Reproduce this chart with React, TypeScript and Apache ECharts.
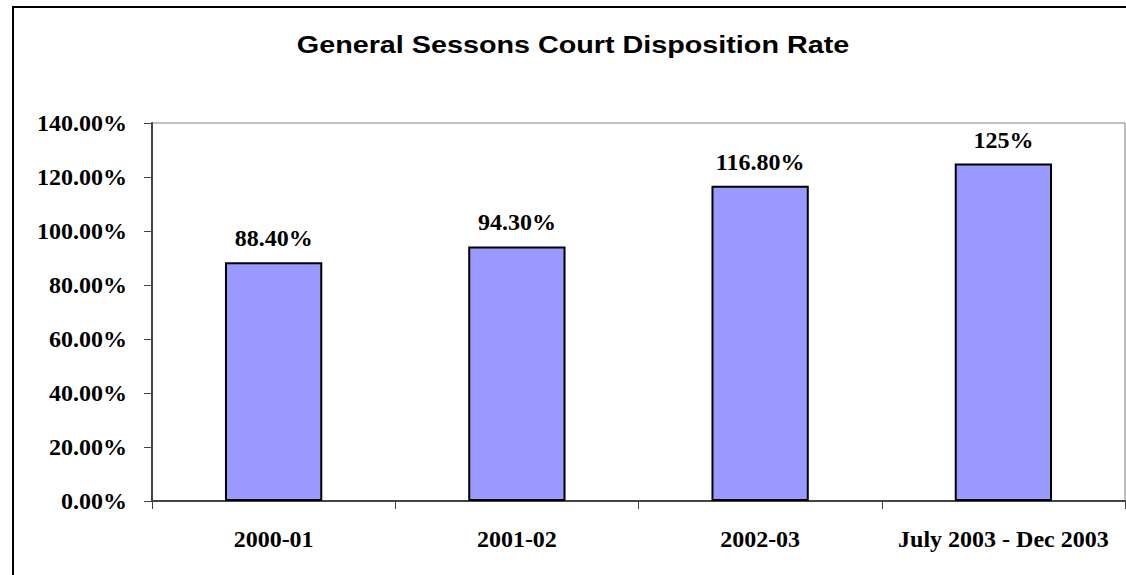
import React, { useEffect, useRef } from "react";
import * as echarts from "echarts";

const titleText = "General Sessons Court Disposition Rate";
const categories = ["2000-01", "2001-02", "2002-03", "July 2003 - Dec 2003"];
const values = [88.4, 94.3, 116.8, 125];
const valueLabels = ["88.40%", "94.30%", "116.80%", "125%"];

const SERIF = "'Liberation Serif', 'Times New Roman', serif";
const SANS = "'Liberation Sans', Arial, sans-serif";

export default function App() {
  const ref = useRef<HTMLDivElement>(null);
  useEffect(() => {
    if (!ref.current) return;
    const chart = echarts.init(ref.current, null, { renderer: "svg" });
    chart.setOption({
      animation: false,
      backgroundColor: "#ffffff",
      graphic: [
        {
          type: "rect",
          shape: { x: 13, y: 7, width: 1200, height: 700 },
          style: { fill: "none", stroke: "#000000", lineWidth: 2 },
          silent: true,
        },
        {
          type: "text",
          x: 573,
          y: 45,
          scaleX: 1.25,
          style: {
            text: titleText,
            x: 0,
            y: 0,
            textAlign: "center",
            textVerticalAlign: "middle",
            fontFamily: SANS,
            fontWeight: "bold",
            fontSize: 23,
            fill: "#000000",
          },
        },
      ],
      grid: {
        left: 152,
        right: 1,
        top: 123,
        bottom: 74,
        show: true,
        borderColor: "#808080",
        borderWidth: 1,
        backgroundColor: "#ffffff",
      },
      xAxis: {
        type: "category",
        data: categories,
        boundaryGap: true,
        axisLine: { show: true, lineStyle: { color: "#444444", width: 2 } },
        axisTick: { show: true, alignWithLabel: false, length: 8, interval: 0, lineStyle: { color: "#444444", width: 1 } },
        axisLabel: {
          interval: 0,
          margin: 26,
          fontFamily: SERIF,
          fontWeight: "bold",
          fontSize: 24,
          color: "#000000",
        },
        splitLine: { show: false },
      },
      yAxis: {
        type: "value",
        min: 0,
        max: 140,
        interval: 20,
        axisLine: { show: true, lineStyle: { color: "#444444", width: 2 } },
        axisTick: { show: true, length: 8, lineStyle: { color: "#444444", width: 1 } },
        axisLabel: {
          margin: 25,
          fontFamily: SERIF,
          fontWeight: "bold",
          fontSize: 24,
          color: "#000000",
          formatter: (v: number) => v.toFixed(2) + "%",
        },
        splitLine: { show: false },
      },
      series: [
        {
          type: "bar",
          data: values,
          barWidth: "40%",
          itemStyle: { color: "#9999FF", borderColor: "#000000", borderWidth: 2 },
          label: {
            show: true,
            position: "top",
            distance: 12,
            fontFamily: SERIF,
            fontWeight: "bold",
            fontSize: 24,
            color: "#000000",
            formatter: (p: any) => valueLabels[p.dataIndex],
          },
        },
      ],
    });
    return () => chart.dispose();
  }, []);
  return (
    <div
      ref={ref}
      style={{ position: "absolute", left: 0, top: 0, width: 1126, height: 575 }}
    />
  );
}
